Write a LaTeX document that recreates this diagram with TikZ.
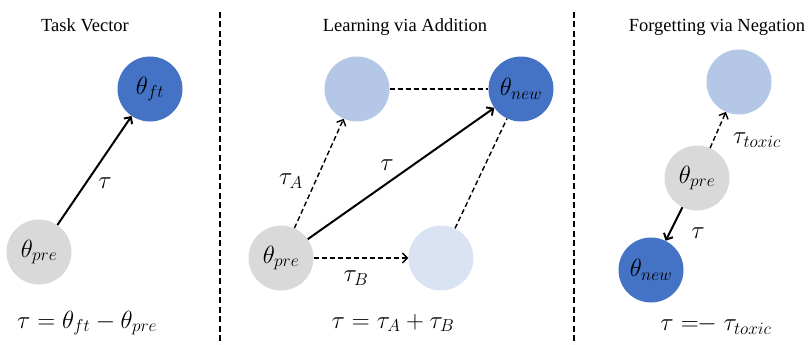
\documentclass[tikz,border=0pt]{standalone}
\usepackage{fontspec}
\setmainfont{Liberation Serif}
\usetikzlibrary{arrows.meta}
\DeclareMathSizes{23}{23}{17}{13}
\definecolor{dblue}{HTML}{4472C4}
\definecolor{lblue}{HTML}{B4C7E7}
\definecolor{llblue}{HTML}{DAE3F3}
\definecolor{lgray}{HTML}{D9D9D9}
\begin{document}
\begin{tikzpicture}[x=1pt,y=-1pt,
  ball/.style={circle,minimum size=65pt,inner sep=0pt,font=\fontsize{23}{27}\selectfont},
  ttl/.style={font=\fontsize{18.5}{22}\selectfont},
  lbl/.style={font=\fontsize{23}{27}\selectfont,inner sep=0pt},
  solidarrow/.style={line width=2pt,-{Straight Barb[length=5pt,width=10pt]}},
  dasharrow/.style={line width=1.4pt,dash pattern=on 5pt off 3pt,-{Straight Barb[length=5pt,width=10pt]}},
  dashline/.style={line width=1.4pt,dash pattern=on 5pt off 3pt},
  divider/.style={line width=1.2pt,dash pattern=on 6pt off 3.5pt}]
\useasboundingbox (0,0) rectangle (811,345);
% dividers
\coordinate (d1t) at (220,12); \coordinate (d1b) at (220,345);
\coordinate (d2t) at (574,12); \coordinate (d2b) at (574,345);
\draw[divider] (d1t) -- (d1b);
\draw[divider] (d2t) -- (d2b);
% Panel 1
\node[ttl] (t1) at (85,25) {Task Vector};
\node[ball,fill=dblue] (ft) at (150,89) {$\theta_{ft}$};
\node[ball,fill=lgray] (pre1) at (39,252) {$\theta_{pre}$};
\draw[solidarrow] (pre1) -- (ft);
\node[lbl] (tau1) at (105,183) {$\tau$};
\node[lbl] (f1) at (87,323) {$\tau=\theta_{ft}-\theta_{pre}$};
% Panel 2
\node[ttl] (t2) at (405,27) {Learning via Addition};
\node[ball,fill=lblue] (a) at (357,89) {};
\node[ball,fill=dblue] (new2) at (521,89) {$\theta_{new}$};
\node[ball,fill=lgray] (pre2) at (281,258) {$\theta_{pre}$};
\node[ball,fill=llblue] (b) at (441,258) {};
\draw[dasharrow] (pre2) -- (a);
\draw[solidarrow] (pre2) -- (new2);
\draw[dasharrow] (pre2) -- (b);
\draw[dashline] (a) -- (new2);
\draw[dashline] (b) -- (new2);
\node[lbl] (tA) at (291,181) {$\tau_A$};
\node[lbl] (tau2) at (387,165) {$\tau$};
\node[lbl] (tB) at (356,278) {$\tau_B$};
\node[lbl] (f2) at (393,323) {$\tau=\tau_A+\tau_B$};
% Panel 3
\node[ttl] (t3) at (717,27) {Forgetting via Negation};
\node[ball,fill=lblue] (tox) at (739,82) {};
\node[ball,fill=lgray] (pre3) at (697,178) {$\theta_{pre}$};
\node[ball,fill=dblue] (new3) at (651,270) {$\theta_{new}$};
\draw[dasharrow] (pre3) -- (tox);
\draw[solidarrow] (pre3) -- (new3);
\node[lbl] (ttox) at (757,140) {$\tau_{toxic}$};
\node[lbl] (tau3) at (698,233) {$\tau$};
\node[lbl] (f3) at (716,325) {$\tau\mathrel{=\!\!-}\tau_{toxic}$};
\end{tikzpicture}
\end{document}
